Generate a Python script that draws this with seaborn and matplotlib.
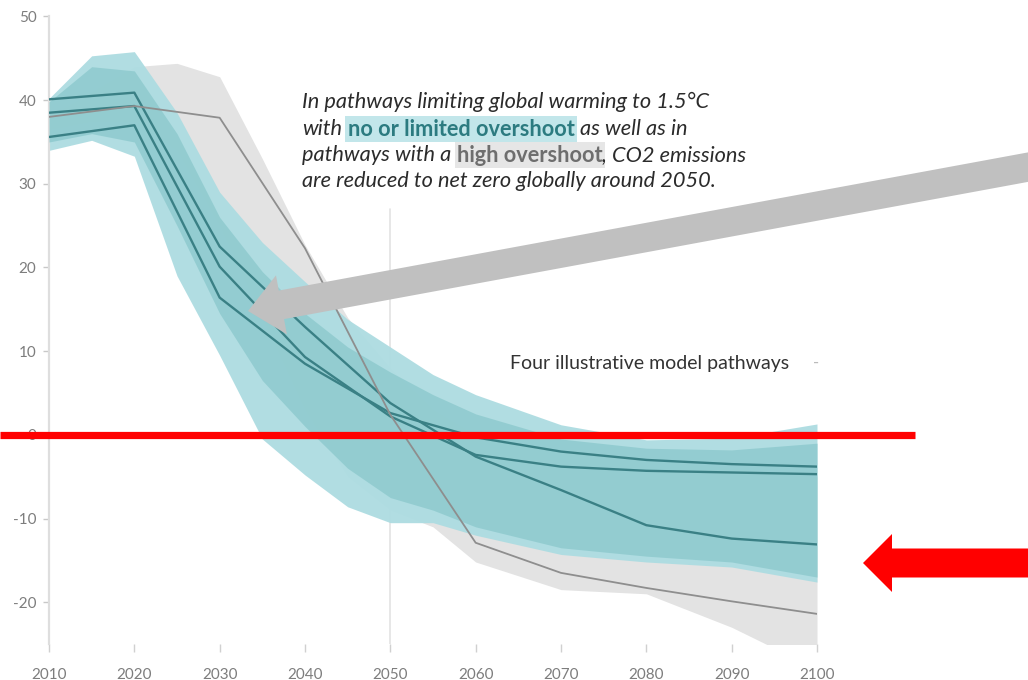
import numpy as np
import pandas as pd
import matplotlib
matplotlib.use("Agg")
import matplotlib.pyplot as plt
import seaborn as sns
from matplotlib.patches import FancyArrow

# ---------------- data ----------------
years_band = [2010, 2015, 2020, 2025, 2030, 2035, 2040, 2045, 2050, 2055, 2060, 2070, 2080, 2090, 2100]
teal_upper = [40.2, 45.3, 45.8, 38.5, 29.0, 23.0, 18.3, 13.8, 10.5, 7.2, 4.8, 1.2, -0.6, -0.4, 1.3]
teal_lower = [34.0, 35.2, 33.3, 19.0, 9.5, -0.5, -4.8, -8.6, -10.5, -10.5, -12.0, -14.3, -15.2, -15.8, -17.6]
teal_mid_upper = [39.8, 44.0, 43.5, 36.0, 26.0, 19.5, 14.5, 10.5, 7.5, 4.8, 2.5, -0.5, -1.6, -1.8, -1.0]
teal_mid_lower = [35.0, 36.0, 35.0, 25.0, 14.5, 6.5, 1.0, -4.0, -7.5, -9.0, -11.0, -13.5, -14.5, -15.2, -17.0]
grey_upper = [38.0, 41.0, 44.0, 44.4, 42.8, 33.0, 22.7, 14.0, 8.0, 3.0, 0.0, -2.0, -3.0, -4.0, -5.0]
grey_lower = [36.5, 37.5, 37.5, 34.0, 25.0, 14.0, 3.0, -5.0, -9.0, -11.0, -15.2, -18.5, -19.0, -23.0, -28.0]

years_path = [2010, 2020, 2030, 2040, 2050, 2060, 2070, 2080, 2090, 2100]
path_a = [35.6, 37.0, 16.4, 8.5, 2.6, -0.3, -2.0, -3.0, -3.5, -3.8]
path_b = [38.5, 39.3, 20.1, 9.3, 2.2, -2.4, -3.8, -4.3, -4.5, -4.7]
path_c = [40.1, 40.9, 22.5, 12.9, 3.8, -2.6, -6.6, -10.8, -12.4, -13.1]
path_high = [38.0, 39.3, 37.9, 22.3, 2.4, -12.9, -16.5, -18.3, -19.9, -21.4]
path_names = ["A", "B", "C", "High overshoot"]

x_ticks = [2010, 2020, 2030, 2040, 2050, 2060, 2070, 2080, 2090, 2100]
x_labels = [str(v) for v in x_ticks]
y_ticks = [-20, -10, 0, 10, 20, 30, 40, 50]
y_labels = [str(v) for v in y_ticks]
net_zero_year = 2050

note_lines = [
    ["In pathways limiting global warming to 1.5°C"],
    ["with", "no or limited overshoot", "as well as in"],
    ["pathways with a", "high overshoot", ", CO2 emissions"],
    ["are reduced to net zero globally around 2050."],
]
legend_label = "Four illustrative model pathways"

# ---------------- style ----------------
sns.set_style("white")
plt.rcParams['font.family'] = ['Lato', 'DejaVu Sans']

W, H = 1028, 680
fig = plt.figure(figsize=(W / 100, H / 100), dpi=100)
ax = fig.add_axes([49 / W, 1 - 644 / H, (817 - 49) / W, (644 - 16.5) / H])

TEAL_LIGHT = "#addce1"
TEAL_MID = "#8ecace"
TEAL_LINE = "#3a8085"
GREY_BAND = "#e3e3e3"
GREY_LINE = "#8e8e8e"

ax.axvline(net_zero_year, ymin=0, ymax=(27 + 25) / 75, color="#e3e3e3", lw=1.2, zorder=0.5)

ax.fill_between(years_band, grey_lower, grey_upper, color=GREY_BAND, lw=0, zorder=1)
ax.fill_between(years_band, teal_lower, teal_upper, color=TEAL_LIGHT, lw=0, alpha=0.95, zorder=2)
ax.fill_between(years_band, teal_mid_lower, teal_mid_upper, color=TEAL_MID, lw=0, alpha=0.85, zorder=3)

df = pd.DataFrame({
    "year": years_path * 4,
    "value": path_a + path_b + path_c + path_high,
    "pathway": sum([[n] * len(years_path) for n in path_names], []),
})
palette = {"A": TEAL_LINE, "B": TEAL_LINE, "C": TEAL_LINE, "High overshoot": GREY_LINE}
sns.lineplot(data=df[df.pathway != "High overshoot"], x="year", y="value", hue="pathway",
             palette=palette, legend=False, ax=ax, lw=1.7, zorder=5, estimator=None)
sns.lineplot(data=df[df.pathway == "High overshoot"], x="year", y="value", hue="pathway",
             palette=palette, legend=False, ax=ax, lw=1.3, zorder=6, estimator=None)

ax.set_xlim(2010, 2100)
ax.set_ylim(-25, 50)
ax.set_xticks(x_ticks, x_labels)
ax.set_yticks(y_ticks, y_labels)
ax.set_xlabel("")
ax.set_ylabel("")
for s in ["top", "right", "bottom"]:
    ax.spines[s].set_visible(False)
ax.spines["left"].set_color("#dedede")
ax.spines["left"].set_linewidth(1.6)
ax.tick_params(axis="y", length=4, width=1, color="#c8c8c8", labelcolor="#7d7d7d",
               labelsize=11, pad=5, left=True)
ax.tick_params(axis="x", length=6, width=1, color="#d0d0d0", labelcolor="#7d7d7d",
               labelsize=11, pad=11, bottom=True)

# red zero line extending beyond the axes
ax.plot([-49 / 768, (915 - 49) / 768], [0, 0], transform=ax.get_yaxis_transform(),
        color="#ff0000", lw=5.2, clip_on=False, zorder=20, solid_capstyle="butt")

# ---------------- overlay (pixel coords) ----------------
ov = fig.add_axes([0, 0, 1, 1], facecolor="none")
ov.set_xlim(0, W)
ov.set_ylim(H, 0)
ov.axis("off")

ov.text(510, 363, legend_label, fontsize=14, color="#333333", va="center", ha="left")
ov.text(813, 363, "-", fontsize=12, color="#bbbbbb", va="center", ha="left")

# annotation text with highlighted phrases
FAM = ["Lato", "DejaVu Sans"]
renderer = fig.canvas.get_renderer()
probe = ov.text(0, 0, note_lines[0][0], fontsize=12, style="italic", family=FAM)
wpx = probe.get_window_extent(renderer).width
probe.remove()
fs = 12 * 405 / wpx

ital = dict(fontsize=fs, style="italic", color="#2b2b2b", family=FAM)
bold_teal = dict(fontsize=fs, weight="bold", color="#2c7b80", family=FAM,
                 bbox=dict(boxstyle="square,pad=0.1", fc="#c2e6ea", ec="none"))
bold_grey = dict(fontsize=fs, weight="bold", color="#6e6e6e", family=FAM,
                 bbox=dict(boxstyle="square,pad=0.1", fc="#e6e6e6", ec="none"))
line_y = [102, 129, 155, 181]
styles = [[ital], [ital, bold_teal, ital], [ital, bold_grey, ital], [ital]]
gaps = [[0], [0, 4, 4], [0, 4, 0], [0]]
for pieces, sty, gp, yy in zip(note_lines, styles, gaps, line_y):
    prev = None
    for txt, st, g in zip(pieces, sty, gp):
        if prev is None:
            prev = ov.text(302, yy, txt, va="center", ha="left", **st)
        else:
            prev = ov.annotate(txt, xy=(1, 0.5), xycoords=prev, xytext=(g, 0),
                               textcoords="offset points", va="center", ha="left", **st)

# grey arrow pointing at pathways
tail = np.array([1045.0, 164.0])
tip = np.array([248.0, 311.0])
d = tip - tail
ov.add_patch(FancyArrow(tail[0], tail[1], d[0], d[1], width=29, head_width=60, head_length=34,
                        length_includes_head=True, color="#c0c0c0", lw=0, zorder=30))
# red arrow
ov.add_patch(FancyArrow(1045, 563, 863 - 1045, 0, width=29, head_width=58, head_length=29,
                        length_includes_head=True, color="#ff0000", lw=0, zorder=30))

fig.savefig("out.png", dpi=100)
